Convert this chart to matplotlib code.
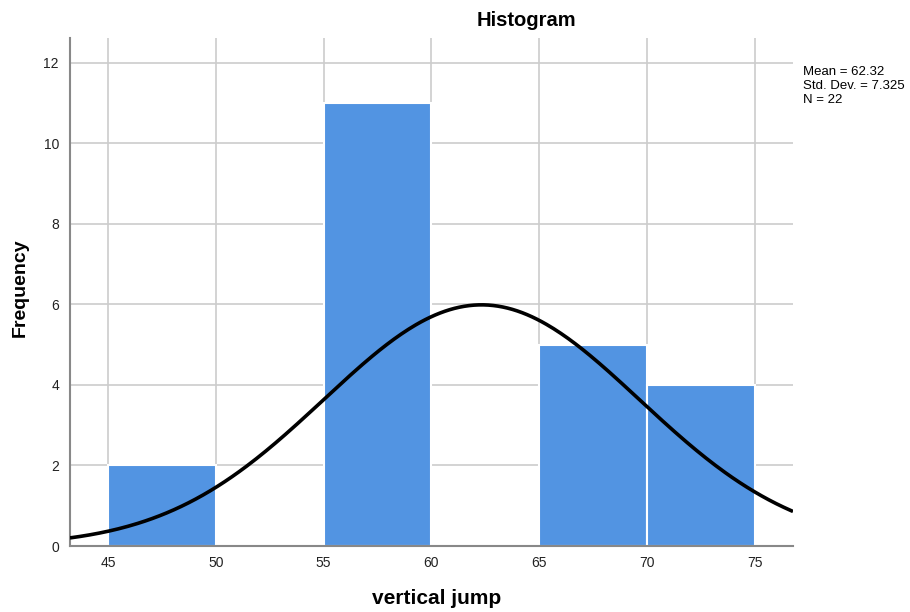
import numpy as np
import matplotlib
matplotlib.use("Agg")
import matplotlib.pyplot as plt

# bins of vertical jump and their counts
bin_edges = [45, 50, 55, 60, 65, 70, 75]
counts = [2, 0, 11, 0, 5, 4]

mean = 62.32
std_dev = 7.325
n = 22

x_ticks = [45, 50, 55, 60, 65, 70, 75]
y_ticks = [0, 2, 4, 6, 8, 10, 12]

plt.rcParams["font.family"] = ["Liberation Sans", "DejaVu Sans"]

fig = plt.figure(figsize=(9.1, 6.12), dpi=100)
ax = fig.add_axes([70 / 910, 66 / 612, 723 / 910, 508 / 612])

lefts = bin_edges[:-1]
widths = [b - a for a, b in zip(bin_edges[:-1], bin_edges[1:])]
ax.bar(lefts, counts, width=widths, align="edge", color="#5294e2",
       edgecolor="white", linewidth=1.5, zorder=2)

# fitted normal curve scaled to counts
bw = 5
xs = np.linspace(43.24, 76.76, 300)
ys = n * bw / (std_dev * np.sqrt(2 * np.pi)) * np.exp(-0.5 * ((xs - mean) / std_dev) ** 2)
ax.plot(xs, ys, color="black", linewidth=2.6, zorder=3, solid_capstyle="butt")

ax.set_xlim(43.24, 76.76)
ax.set_ylim(0, 12.62)
ax.set_xticks(x_ticks)
ax.set_yticks(y_ticks)
ax.tick_params(length=0, labelsize=10, colors="#222222")
ax.tick_params(axis="x", pad=7.5)
ax.tick_params(axis="y", pad=8)
ax.grid(True, color="#cccccc", linewidth=1.2, zorder=0)
ax.set_axisbelow(True)

for s in ["top", "right"]:
    ax.spines[s].set_visible(False)
ax.spines["left"].set_color("#888888")
ax.spines["bottom"].set_color("#888888")
ax.spines["left"].set_linewidth(1.5)
ax.spines["bottom"].set_linewidth(1.5)

fig.text(526 / 910, 1 - 20 / 612, "Histogram", ha="center", va="center",
         fontsize=14.5, fontweight="bold")
fig.text(437 / 910, 1 - 599 / 612, "vertical jump", ha="center", va="center",
         fontsize=15, fontweight="bold")
fig.text(20 / 910, 1 - 288 / 612, "Frequency", ha="center", va="center",
         fontsize=14, fontweight="bold", rotation=90)
fig.text(803 / 910, 1 - 66 / 612,
         f"Mean = {mean}\nStd. Dev. = {std_dev}\nN = {n}",
         ha="left", va="top", fontsize=9.5, linespacing=1.2)

fig.savefig("out.png", dpi=100)
